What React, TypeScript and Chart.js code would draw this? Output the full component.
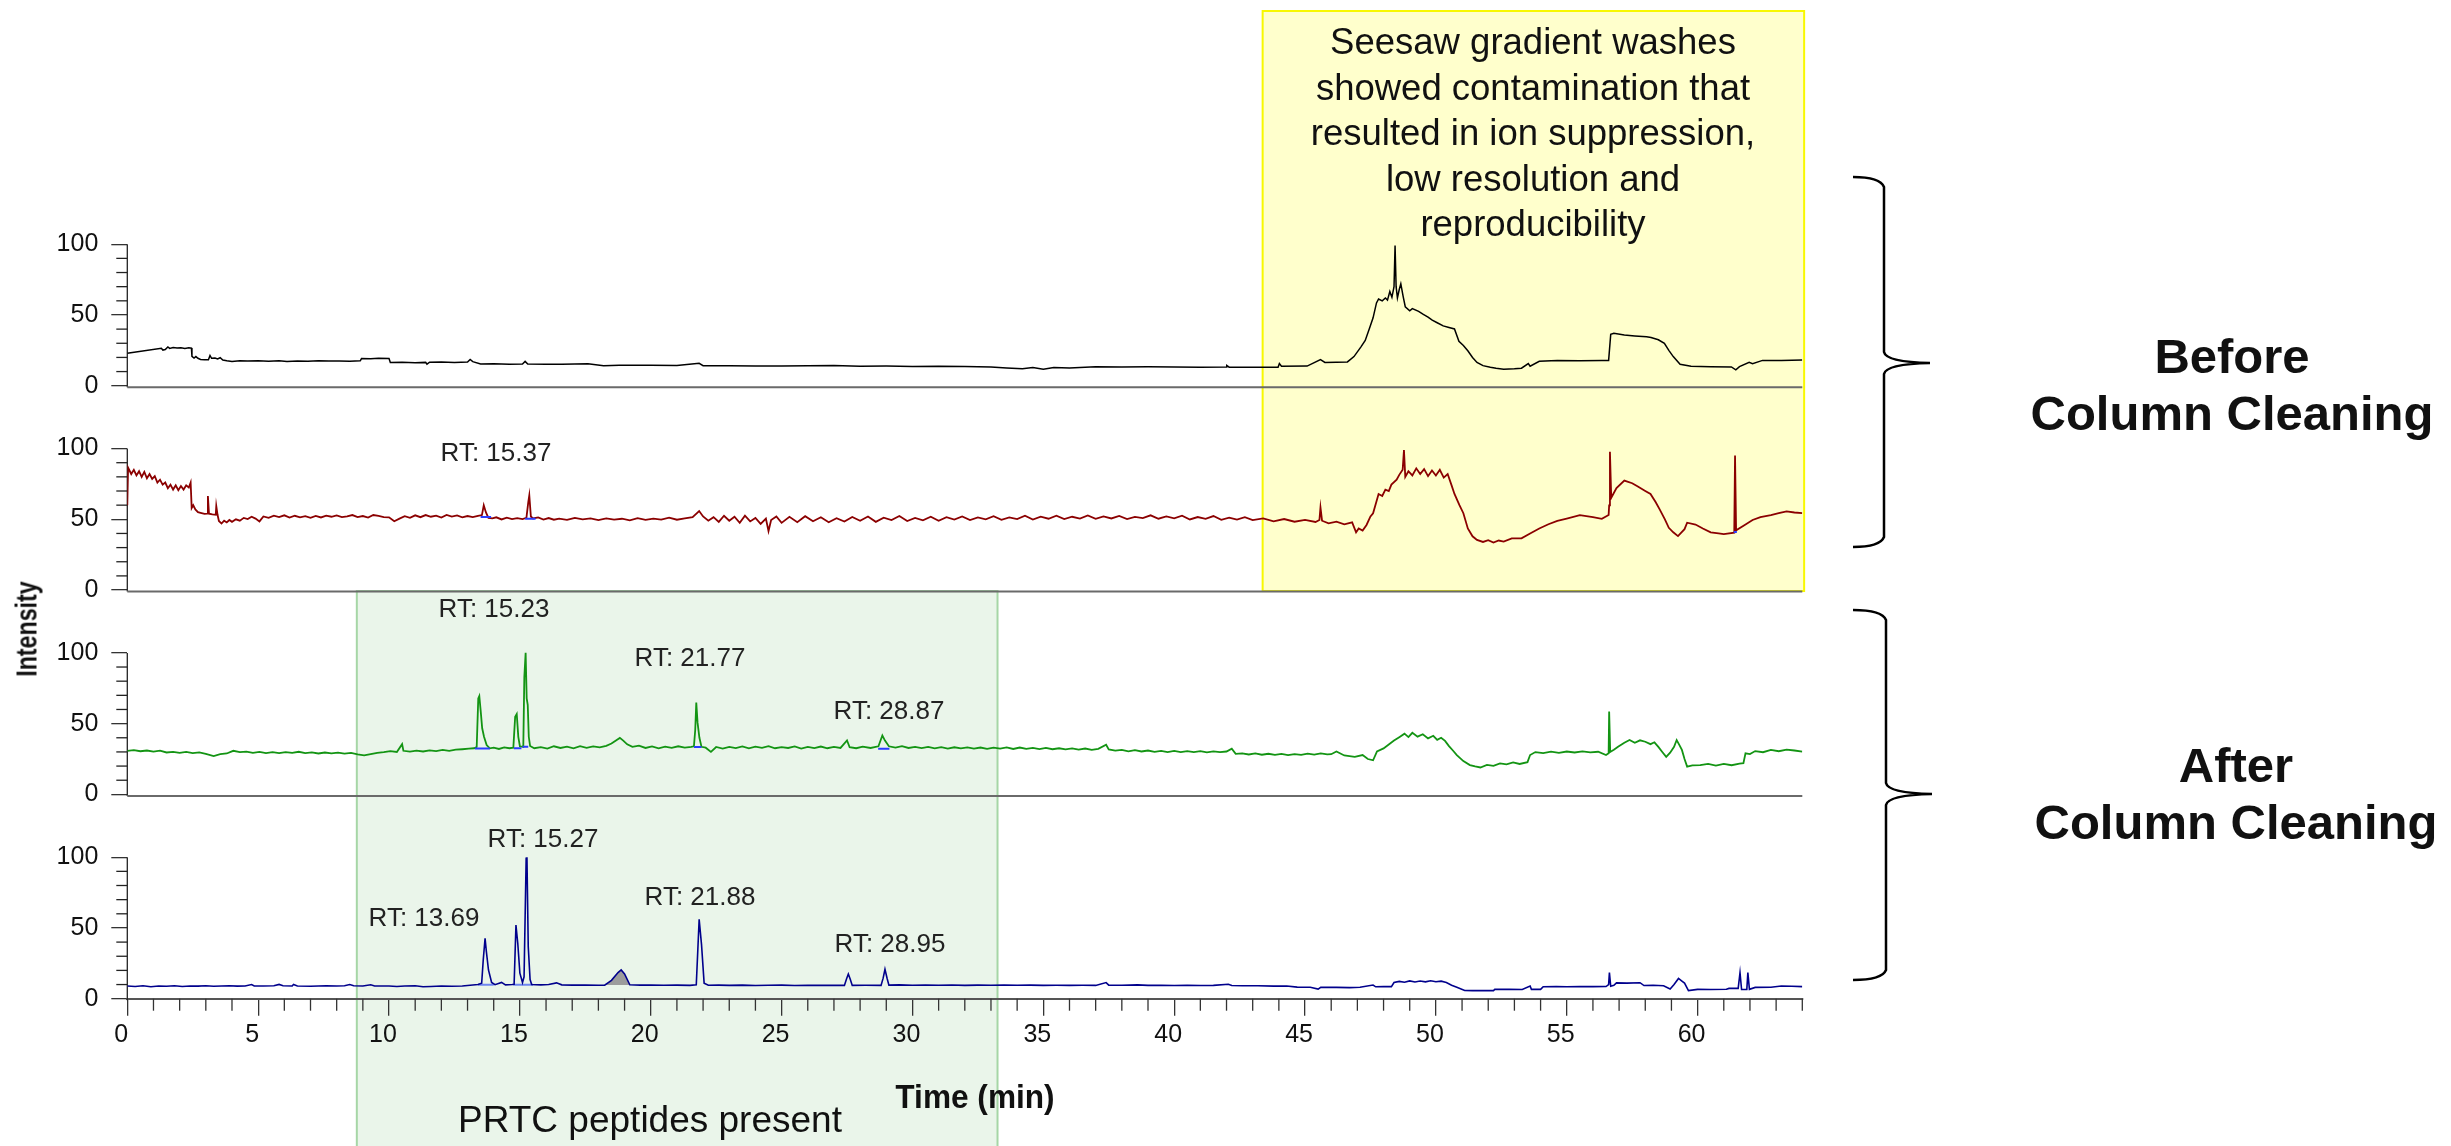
import React, { useEffect, useRef } from 'react';
import { Chart, registerables } from 'chart.js';

Chart.register(...registerables);

const FONT = '"Liberation Sans", Arial, Helvetica, sans-serif';
const W = 2451;
const H = 1146;

// ---- axes ----
const xTickValues = [0, 5, 10, 15, 20, 25, 30, 35, 40, 45, 50, 55, 60];
const xMinorTicks = [1, 2, 3, 4, 6, 7, 8, 9, 11, 12, 13, 14, 16, 17, 18, 19, 21, 22, 23, 24, 26, 27, 28, 29, 31, 32, 33, 34, 36, 37, 38, 39, 41, 42, 43, 44, 46, 47, 48, 49, 51, 52, 53, 54, 56, 57, 58, 59, 61, 62, 63, 64];
const yTickValues = [0, 50, 100];
const yMinorTicks = [10, 20, 30, 40, 60, 70, 80, 90];

// ---- highlighted windows (min) ----
const prtcWindow = [8.77, 33.25];
const washWindow = [43.38, 64.07];

// ---- Panel 1: before cleaning, run A (black) [time, relative intensity] ----
const traceBeforeA: [number, number][] = [
  [0, 23], [1.3, 26.5], [1.36, 25.2], [1.45, 25.6], [1.55, 27.4], [1.62, 26.4], [1.75, 27], [1.9, 26.6], [2.05, 26.9], [2.2, 26.4], [2.35, 26.8], [2.45, 26.6],
  [2.47, 20.8], [2.55, 19.6], [2.62, 20.6], [2.7, 19.4], [2.8, 18.6], [2.95, 18.3], [3.1, 18.4], [3.16, 21.4], [3.22, 19.4], [3.35, 19.6], [3.45, 18.9], [3.55, 19.8],
  [3.65, 18.2], [3.8, 17.6], [4.0, 17.2], [4.3, 17.7], [4.6, 17.4], [5.0, 17.6], [5.4, 17.3], [5.8, 17.7], [6.1, 17.2], [6.5, 17.5], [6.9, 17.3], [7.3, 17.6],
  [7.7, 17.4], [8.1, 17.5], [8.5, 17.3], [8.9, 17.6], [8.95, 19.2], [9.3, 19.0], [9.6, 19.4], [10.0, 19.2], [10.05, 16.4], [10.5, 16.6], [11.0, 16.3], [11.4, 16.5],
  [11.45, 15.2], [11.55, 16.6], [12.0, 16.8], [12.5, 16.5], [13.0, 16.7], [13.1, 18.6], [13.2, 17.0], [13.5, 15.4], [14.0, 15.5], [14.6, 15.2], [15.1, 15.4], [15.2, 17.2],
  [15.3, 15.3], [16.0, 15.2], [16.6, 15.1], [17.6, 15.6], [18.2, 14.2], [18.8, 14.5], [20.0, 14.4], [21.0, 14.3], [21.85, 15.8], [22.0, 14.2], [23, 14.1], [24, 14.0],
  [25, 13.9], [26, 14.1], [27, 14.3], [28, 13.8], [29, 13.9], [30, 13.6], [31, 13.8], [32, 13.5], [33, 13.2], [33.6, 12.6], [34.2, 12.0], [34.6, 12.8], [35.0, 11.7],
  [35.4, 12.9], [36, 12.6], [37, 13.4], [38, 13.2], [39, 13.4], [40, 13.2], [41, 13.0], [42, 13.2], [42.01, 14.3], [42.1, 13.1], [43, 13.0], [43.97, 13.1], [44.02, 15.7],
  [44.1, 13.8], [45.08, 13.9], [45.59, 18.4], [45.76, 16.5], [46.62, 16.8], [46.87, 20.6], [47.13, 27.3], [47.3, 32], [47.47, 40.9], [47.6, 48], [47.73, 58.5], [47.81, 61.3],
  [47.95, 60], [48.07, 62], [48.15, 60.5], [48.24, 66.6], [48.32, 62.5], [48.4, 70], [48.44, 99], [48.48, 70], [48.53, 62], [48.6, 68], [48.66, 72], [48.75, 63], [48.83, 55.8],
  [49.0, 53], [49.1, 54.5], [49.34, 52.5], [49.52, 50.4], [49.7, 48.5], [49.86, 46.3], [50.05, 44.5], [50.28, 42.3], [50.5, 41.2], [50.71, 40.1], [50.88, 31.4], [51.05, 28.5],
  [51.22, 24.7], [51.4, 20], [51.57, 16.5], [51.8, 14.2], [52.08, 13], [52.3, 12.3], [52.59, 11.6], [53.0, 12.0], [53.27, 12.4], [53.53, 15.7], [53.6, 13.8], [53.95, 17.3],
  [54.64, 17.9], [55.5, 17.6], [56.34, 17.9], [56.6, 17.9], [56.68, 36.3], [56.8, 37], [57.2, 35.8], [57.6, 35.2], [58.05, 34.6], [58.22, 34.1], [58.5, 32.5], [58.73, 30],
  [58.9, 25], [59.07, 20.6], [59.33, 15.1], [59.75, 13.8], [60.5, 13.4], [61.29, 13.3], [61.46, 11.2], [61.6, 13.5], [61.97, 16.5], [62.1, 15.5], [62.48, 17.9], [63.2, 17.8], [64, 18.2],
];

// ---- Panel 2: before cleaning, run B (dark red) ----
const traceBeforeB: [number, number][] = [
  [0, 60], [0.03, 86.5], [0.15, 82], [0.25, 85], [0.35, 81], [0.45, 84], [0.55, 80], [0.65, 83.5], [0.75, 79], [0.85, 82], [0.95, 78.5], [1.05, 80.5], [1.15, 76], [1.25, 78],
  [1.35, 74.5], [1.45, 76], [1.55, 72], [1.65, 74.5], [1.75, 71], [1.85, 74], [1.95, 70.5], [2.05, 73.5], [2.15, 71], [2.25, 74], [2.35, 72.5], [2.42, 76], [2.46, 58], [2.52, 60],
  [2.6, 57], [2.7, 55], [2.8, 54.5], [2.95, 53.8], [3.05, 54], [3.08, 66.4], [3.12, 54], [3.25, 53.5], [3.38, 53.2], [3.4, 59.4], [3.45, 53], [3.5, 48.8], [3.6, 47], [3.7, 49],
  [3.8, 47.8], [3.9, 49.5], [4.0, 48.2], [4.15, 50], [4.3, 49], [4.45, 51], [4.6, 50.2], [4.75, 51.8], [4.9, 50.5], [5.05, 48.5], [5.2, 52], [5.4, 51], [5.6, 52.6], [5.8, 51.5],
  [6.0, 52.8], [6.2, 51.2], [6.4, 52.5], [6.6, 51.4], [6.8, 52.2], [7.0, 51], [7.2, 52.4], [7.4, 51.3], [7.6, 52.6], [7.8, 51.8], [8.0, 52.8], [8.2, 51.6], [8.4, 52.1], [8.6, 53],
  [8.8, 51.5], [9.0, 52.3], [9.2, 51.2], [9.4, 53], [9.6, 52.4], [9.8, 51.6], [10.0, 51.4], [10.2, 48.6], [10.4, 50.5], [10.6, 52.2], [10.8, 51.1], [11.0, 52.8], [11.2, 51.5],
  [11.4, 53], [11.6, 51.8], [11.8, 52.6], [12.0, 51.2], [12.2, 53.1], [12.4, 51.9], [12.6, 52.7], [12.8, 51.4], [13.0, 52.3], [13.2, 51.5], [13.4, 52.4], [13.55, 53], [13.62, 59.9],
  [13.7, 55], [13.8, 51], [13.95, 50.6], [14.1, 51.4], [14.3, 49.9], [14.5, 51.2], [14.7, 50.1], [14.9, 50.8], [15.1, 50.2], [15.25, 51], [15.32, 62], [15.36, 66.9], [15.42, 52],
  [15.5, 50.6], [15.7, 51.3], [15.9, 49.8], [16.1, 50.9], [16.3, 49.7], [16.5, 50.5], [16.8, 49.6], [17.1, 51], [17.4, 49.9], [17.7, 50.6], [18.0, 49.5], [18.3, 50.7], [18.6, 49.8],
  [18.9, 50.4], [19.2, 49.3], [19.5, 50.8], [19.8, 49.6], [20.1, 50.5], [20.4, 49.8], [20.7, 51.2], [21.0, 49.7], [21.3, 50.6], [21.6, 51.5], [21.85, 55.8], [22.0, 52], [22.2, 49],
  [22.4, 51.5], [22.6, 48.2], [22.8, 52.5], [23.0, 49], [23.2, 51.8], [23.4, 47.5], [23.6, 52.6], [23.8, 48.5], [24.0, 51], [24.2, 46.8], [24.4, 50.5], [24.5, 41.7], [24.6, 49.5],
  [24.8, 52], [25.0, 47.5], [25.3, 51.8], [25.6, 48], [25.9, 52.2], [26.2, 48.6], [26.5, 51.5], [26.8, 47.9], [27.1, 50.8], [27.4, 48.4], [27.7, 51.6], [28.0, 49], [28.3, 52],
  [28.6, 48.2], [28.9, 51.2], [29.2, 49.4], [29.5, 52.3], [29.8, 48.8], [30.1, 51], [30.4, 49.3], [30.7, 51.8], [31.0, 49], [31.3, 51.5], [31.6, 49.8], [31.9, 52], [32.2, 49.5],
  [32.5, 51.3], [32.8, 50], [33.1, 52.2], [33.4, 49.6], [33.7, 51.4], [34.0, 50.2], [34.3, 52.5], [34.6, 49.8], [34.9, 51.9], [35.2, 50.4], [35.5, 52.6], [35.8, 50.1], [36.1, 51.8],
  [36.4, 50.5], [36.7, 52.7], [37.0, 50.3], [37.3, 52.1], [37.6, 50.6], [37.9, 52.4], [38.2, 50.2], [38.5, 51.7], [38.8, 50.9], [39.1, 52.8], [39.4, 50.4], [39.7, 52], [40.0, 50.7],
  [40.3, 52.5], [40.6, 49.9], [40.9, 51.6], [41.2, 50.3], [41.5, 52.3], [41.8, 49.6], [42.1, 51.2], [42.4, 49.8], [42.7, 51.5], [43.0, 49.4], [43.4, 50.6], [43.8, 48.5], [44.2, 50.2],
  [44.6, 48.3], [45.0, 49.6], [45.4, 48.1], [45.55, 49.5], [45.59, 58.4], [45.65, 49], [45.9, 47.2], [46.2, 48.3], [46.5, 46.5], [46.8, 47.8], [46.95, 40.8], [47.05, 43.5], [47.2, 42],
  [47.35, 46], [47.5, 52], [47.6, 54.3], [47.81, 67.9], [47.95, 66.5], [48.07, 71], [48.2, 70], [48.3, 74.5], [48.5, 78], [48.6, 81.4], [48.73, 85], [48.78, 99], [48.83, 80],
  [48.95, 84], [49.1, 81], [49.25, 86], [49.4, 82], [49.55, 85.5], [49.7, 80.5], [49.85, 84.5], [50.0, 81], [50.15, 85], [50.3, 79.5], [50.45, 82], [50.6, 74], [50.71, 67.9],
  [50.9, 60], [51.05, 54.3], [51.22, 43.5], [51.4, 38], [51.57, 35.4], [51.8, 34], [52.0, 35.2], [52.2, 33.6], [52.4, 35], [52.59, 34.2], [52.9, 36.5], [53.27, 36.5], [53.6, 40],
  [53.95, 43.5], [54.3, 46.5], [54.64, 48.9], [55.0, 50.5], [55.5, 52.9], [56.0, 51.5], [56.34, 50.3], [56.6, 53], [56.62, 59.8], [56.65, 97.7], [56.7, 65.2], [56.9, 72], [57.2, 77.4],
  [57.5, 75.5], [57.7, 73.3], [58.0, 70], [58.2, 67.9], [58.4, 62], [58.55, 57], [58.75, 50], [58.9, 44], [59.07, 40.8], [59.25, 38.1], [59.5, 43], [59.6, 47.6], [59.92, 46.3],
  [60.2, 43.5], [60.5, 40.8], [60.8, 40], [61.0, 39.5], [61.4, 40.5], [61.43, 95], [61.47, 42.2], [61.8, 46], [62.1, 49.5], [62.4, 51.6], [62.8, 53], [63.1, 54.3], [63.4, 55.6],
  [63.7, 54.8], [64.0, 54.3],
];

// ---- Panel 3: after cleaning, run A (green) ----
const traceAfterA: [number, number][] = [
  [0, 30.8], [0.25, 31.3], [0.5, 30.5], [0.75, 31], [1.0, 30.2], [1.25, 30.9], [1.5, 29.6], [1.75, 30.1], [2.0, 29.4], [2.25, 30], [2.5, 29.1], [2.75, 29.7], [3.0, 28.6], [3.3, 27.1],
  [3.55, 28.4], [3.8, 28.9], [4.05, 30.8], [4.3, 29.8], [4.55, 30.2], [4.8, 29.4], [5.05, 30], [5.3, 29.2], [5.55, 29.8], [5.8, 29.1], [6.05, 29.9], [6.3, 29.3], [6.55, 30.1],
  [6.8, 29.2], [7.05, 29.7], [7.3, 28.9], [7.55, 29.6], [7.8, 29], [8.05, 29.5], [8.3, 28.8], [8.55, 29.3], [8.8, 28.2], [9.05, 27.6], [9.3, 28.5], [9.55, 29.4], [9.8, 29.8],
  [10.05, 30.5], [10.3, 30], [10.5, 35.5], [10.55, 30.8], [10.8, 30.2], [11.05, 30.9], [11.3, 30.3], [11.55, 31.1], [11.8, 30.6], [12.05, 31.4], [12.3, 30.8], [12.55, 31.6],
  [12.8, 31.9], [13.05, 32.3], [13.25, 32.6], [13.35, 33.5], [13.41, 67.8], [13.45, 69.5], [13.5, 59.6], [13.56, 46.7], [13.63, 40.7], [13.73, 34.8], [13.85, 32.5], [14.0, 33],
  [14.2, 32.1], [14.4, 33.2], [14.6, 32.6], [14.75, 33], [14.82, 54.9], [14.88, 56.8], [14.94, 40.7], [15.0, 34], [15.13, 33.5], [15.17, 83], [15.22, 100], [15.26, 67.8],
  [15.3, 63.3], [15.34, 40.7], [15.39, 34.2], [15.55, 32.6], [15.8, 33.4], [16.05, 32.3], [16.3, 34], [16.55, 32.8], [16.8, 33.7], [17.05, 32.5], [17.3, 34.1], [17.55, 32.9],
  [17.8, 33.9], [18.05, 33.2], [18.3, 34.3], [18.5, 35.9], [18.7, 38.5], [18.82, 39.9], [18.95, 38], [19.1, 35.4], [19.3, 33.6], [19.55, 34.5], [19.8, 32.8], [20.05, 33.9],
  [20.3, 32.6], [20.55, 33.8], [20.8, 32.9], [21.05, 34], [21.3, 33.1], [21.55, 33.5], [21.65, 34], [21.7, 45.5], [21.74, 64.9], [21.79, 50.5], [21.86, 40], [21.94, 33.6],
  [22.1, 33], [22.3, 30], [22.5, 33.5], [22.75, 32.4], [23.0, 33.6], [23.25, 32.7], [23.5, 33.9], [23.75, 32.5], [24.0, 33.7], [24.25, 32.9], [24.5, 34.1], [24.75, 32.6],
  [25.0, 33.4], [25.25, 32.8], [25.5, 33.9], [25.75, 32.4], [26.0, 33.5], [26.25, 32.7], [26.5, 33.8], [26.75, 32.6], [27.0, 33.6], [27.25, 32.8], [27.5, 38.1], [27.6, 33.3],
  [27.85, 32.6], [28.1, 33.7], [28.4, 32.8], [28.7, 34], [28.85, 41.6], [28.95, 38], [29.1, 34], [29.35, 33], [29.6, 34.1], [29.85, 32.8], [30.1, 33.6], [30.35, 32.7],
  [30.6, 33.5], [30.85, 32.5], [31.1, 33.4], [31.35, 32.4], [31.6, 33.3], [31.85, 32.5], [32.1, 33.2], [32.35, 32.3], [32.6, 33.1], [32.85, 32.2], [33.1, 33], [33.35, 32.4],
  [33.6, 33.2], [33.85, 32.1], [34.1, 33.1], [34.35, 32.2], [34.6, 32.9], [34.85, 32], [35.1, 32.8], [35.35, 31.9], [35.6, 32.6], [35.85, 31.8], [36.1, 32.5], [36.35, 31.6],
  [36.6, 32.4], [36.85, 31.5], [37.1, 32.2], [37.4, 35.1], [37.5, 31.8], [37.75, 30.9], [38.0, 31.5], [38.25, 30.4], [38.5, 31.2], [38.75, 30.3], [39.0, 31], [39.25, 30.1],
  [39.5, 30.8], [39.75, 29.9], [40.0, 30.7], [40.25, 29.8], [40.5, 30.6], [40.75, 29.9], [41.0, 30.5], [41.25, 29.7], [41.5, 30.4], [41.75, 29.8], [42.0, 30.3], [42.2, 32.3],
  [42.35, 28.6], [42.6, 29], [42.85, 28.2], [43.1, 28.9], [43.35, 28], [43.6, 28.7], [43.85, 27.9], [44.1, 28.6], [44.35, 27.8], [44.6, 28.5], [44.85, 27.9], [45.1, 28.8],
  [45.35, 28.1], [45.6, 29], [45.85, 28.3], [46.0, 28.4], [46.2, 30.3], [46.5, 27.5], [46.9, 26.5], [47.2, 27.8], [47.4, 25], [47.6, 24.1], [47.75, 30.3], [48.0, 32.5],
  [48.2, 35.3], [48.4, 38], [48.6, 40.4], [48.8, 42.9], [48.95, 40.5], [49.1, 43.5], [49.3, 40.8], [49.5, 42.5], [49.7, 39.6], [49.9, 41.4], [50.05, 38.5], [50.2, 40],
  [50.35, 37.8], [50.5, 34.1], [50.65, 31], [50.8, 27.8], [51.05, 23.5], [51.3, 20.7], [51.5, 19.8], [51.7, 19], [51.95, 20.8], [52.2, 20.1], [52.45, 21.9], [52.7, 21.2],
  [52.95, 22.6], [53.2, 21.5], [53.5, 22.8], [53.6, 27.8], [53.8, 29.9], [54.1, 29.1], [54.4, 30.2], [54.7, 29.4], [55.0, 30.3], [55.3, 29.6], [55.6, 30.4], [55.9, 29.7],
  [56.2, 30.1], [56.5, 27.8], [56.6, 29], [56.62, 58.6], [56.66, 30], [56.8, 31.5], [56.96, 33.6], [57.2, 36.5], [57.4, 38.4], [57.6, 36.5], [57.8, 38.2], [58.0, 37.2],
  [58.2, 35.5], [58.35, 36.8], [58.5, 33.6], [58.65, 30], [58.8, 26.5], [58.95, 29.5], [59.1, 33.6], [59.2, 38.4], [59.3, 35], [59.4, 31.4], [59.5, 25], [59.6, 19.6],
  [59.8, 20.5], [60.1, 20.7], [60.4, 21.6], [60.7, 20.4], [61.0, 21.5], [61.3, 20.6], [61.6, 21.8], [61.75, 22], [61.83, 29], [62.0, 28.5], [62.2, 30.6], [62.5, 29.8],
  [62.8, 31.4], [63.1, 30.5], [63.4, 31.6], [63.7, 31], [64.0, 30.2],
];

// ---- Panel 4: after cleaning, run B (navy) ----
const traceAfterB: [number, number][] = [
  [0, 9], [0.3, 8.6], [0.6, 9.1], [0.9, 8.5], [1.2, 9], [1.5, 8.8], [1.8, 9.1], [2.1, 8.6], [2.4, 9], [2.7, 8.9], [3.0, 9.1], [3.3, 8.8], [3.6, 9], [3.9, 9.1], [4.2, 8.9],
  [4.5, 9], [4.75, 10], [4.85, 9], [5.2, 9], [5.6, 9.1], [5.8, 10.1], [5.95, 9.2], [6.3, 9], [6.35, 10], [6.5, 9], [7.0, 8.8], [7.3, 9], [7.6, 9.1], [8.0, 9], [8.3, 9.1],
  [8.5, 10], [8.65, 9.2], [9.0, 9], [9.3, 9.8], [9.45, 9], [10.0, 9], [10.3, 8.6], [10.6, 9], [11.0, 9.1], [11.3, 8.4], [11.6, 8.6], [12.0, 9], [12.4, 8.8], [12.8, 9],
  [13.1, 9.5], [13.4, 10], [13.54, 10.9], [13.6, 27.3], [13.67, 42.7], [13.72, 33.3], [13.8, 20.3], [13.92, 11.5], [14.05, 9.9], [14.3, 11.5], [14.45, 9.8], [14.7, 10],
  [14.78, 10.2], [14.85, 52], [14.92, 39], [15.0, 18], [15.1, 11.5], [15.16, 15.5], [15.24, 99.2], [15.27, 100], [15.32, 36.7], [15.39, 13.5], [15.45, 10], [15.8, 9.8],
  [16.1, 10], [16.4, 11.2], [16.6, 9.8], [17.0, 9.6], [17.5, 9.7], [18.0, 9.5], [18.24, 9.6], [18.5, 13], [18.75, 18.5], [18.87, 20.3], [19.0, 17.5], [19.2, 9.8], [19.6, 9.6],
  [20.0, 9.7], [20.5, 9.5], [21.0, 9.6], [21.5, 9.4], [21.74, 9.8], [21.8, 35], [21.85, 56.1], [21.94, 38.4], [22.04, 11], [22.2, 9.5], [22.6, 9.6], [23.0, 9.4], [23.5, 9.6],
  [24.0, 9.3], [24.5, 9.5], [25.0, 9.6], [25.5, 9.3], [26.0, 9.5], [26.5, 9.4], [27.0, 9.5], [27.4, 9.4], [27.48, 14], [27.55, 17.5], [27.62, 14], [27.7, 9.4], [28.2, 9.5],
  [28.8, 9.4], [28.88, 14.5], [28.95, 20.8], [29.03, 14.5], [29.1, 9.6], [29.5, 9.8], [30.0, 9.5], [30.5, 9.6], [31.0, 9.5], [31.5, 9.7], [32.0, 9.4], [32.5, 9.6], [33.0, 9.5],
  [33.5, 9.7], [34.0, 9.5], [34.5, 9.6], [35.0, 9.4], [35.5, 9.5], [36.0, 9.4], [36.5, 9.5], [37.0, 9.4], [37.4, 11.4], [37.5, 9.6], [38.0, 9.5], [38.6, 9.8], [39.0, 9.4],
  [39.5, 9.5], [40.0, 9.3], [40.5, 9.4], [41.0, 9.3], [41.5, 9.4], [42.07, 10.2], [42.2, 9.3], [42.6, 9.1], [43.2, 9.2], [43.8, 8.9], [44.3, 9], [44.7, 8.2], [45.2, 8.1],
  [45.5, 6.8], [45.6, 8.1], [46.2, 8], [46.7, 7.8], [47.1, 8.1], [47.6, 9.7], [47.7, 8.4], [48.0, 8.6], [48.3, 8.5], [48.4, 11.4], [48.6, 12.2], [48.8, 11.6], [49.0, 12.6],
  [49.2, 11.8], [49.4, 12.5], [49.6, 11.9], [49.8, 12.7], [50.0, 12], [50.2, 12.4], [50.4, 11.4], [50.6, 9.5], [50.8, 8.1], [51.1, 5.8], [51.4, 5.7], [51.8, 5.8], [52.2, 5.7],
  [52.25, 6.6], [52.8, 6.7], [53.3, 6.5], [53.6, 9], [53.65, 6.6], [54.0, 6.6], [54.1, 8.5], [54.6, 8.6], [55.0, 8.4], [55.5, 8.6], [56.0, 8.5], [56.5, 8.6], [56.6, 10],
  [56.63, 18.4], [56.68, 8.8], [56.8, 9.5], [56.9, 11.2], [57.3, 11], [57.8, 11.3], [57.95, 9.3], [58.3, 9.5], [58.7, 9.2], [58.95, 6.9], [59.1, 10], [59.27, 14.3], [59.4, 12.5],
  [59.5, 11], [59.65, 5.7], [60.0, 6.6], [60.5, 6.5], [61.1, 6.7], [61.2, 7.3], [61.55, 7.3], [61.62, 18.4], [61.68, 6.5], [61.88, 6.6], [61.92, 18.4], [61.98, 6.6], [62.2, 8],
  [62.8, 8.1], [63.2, 9], [63.6, 8.8], [64.0, 8.5],
];

// ---- integration baselines / shaded peak ----
const baselinesBeforeB: [number, number | null][] = [[13.5, 51.6], [13.9, 51.6], [13.9, null], [15.2, 50.4], [15.6, 50.4], [15.6, null], [61.38, 41], [61.5, 41]];
const baselinesAfterA: [number, number | null][] = [[13.28, 32.5], [13.85, 32.5], [13.85, null], [14.77, 32.6], [15.06, 32.6], [15.06, null], [15.1, 33.6], [15.32, 33.6], [15.32, null], [21.65, 33.4], [21.94, 33.4], [21.94, null], [28.69, 32.3], [29.12, 32.3]];
const baselinesAfterB: [number, number | null][] = [[13.4, 9.9], [14.0, 9.9], [14.0, null], [14.75, 9.9], [15.5, 9.9]];
const shadedPeakAfterB: [number, number][] = [[18.24, 9.6], [18.5, 13], [18.75, 18.5], [18.87, 20.3], [19.0, 17.5], [19.2, 9.6]];
const shadedPeakBase = 9.6;

const toXY = (arr: [number, number | null][]) => arr.map(([x, y]) => ({ x, y }));

const panelAxes = ['y1', 'y2', 'y3', 'y4'];

const lineDs = (data: [number, number | null][], yAxisID: string, color: string, order: number, width: number) => ({
  data: toXY(data),
  yAxisID,
  xAxisID: 'x',
  borderColor: color,
  backgroundColor: color,
  borderWidth: width,
  pointRadius: 0,
  pointHoverRadius: 0,
  tension: 0,
  fill: false,
  spanGaps: false,
  order,
});

const yAxis = (weight: number) => ({
  type: 'linear',
  position: 'left',
  stack: 'panels',
  stackWeight: 1,
  weight,
  min: 0,
  max: 144.4,
  afterBuildTicks: (axis: any) => {
    axis.ticks = yTickValues.map((v) => ({ value: v }));
  },
  afterFit: (axis: any) => {
    axis.width = 127.3;
  },
  grid: { display: true, drawOnChartArea: false, drawTicks: true, tickLength: 16, color: '#333', lineWidth: 1.3 },
  border: { display: false },
  ticks: { padding: 13, color: '#111', font: { size: 25, family: FONT } },
});

const decorPlugin = {
  id: 'decor',
  beforeDraw(chart: any) {
    const { ctx, scales } = chart;
    const x = scales.x;
    const splitY = scales.y2.getPixelForValue(0) + 1;
    const yl = x.getPixelForValue(washWindow[0]);
    const yr = x.getPixelForValue(washWindow[1]);
    ctx.save();
    ctx.fillStyle = '#FFFFCC';
    ctx.fillRect(yl, 11, yr - yl, splitY - 11);
    ctx.strokeStyle = '#F8F800';
    ctx.lineWidth = 2;
    ctx.strokeRect(yl, 11, yr - yl, splitY - 11);
    const gl = x.getPixelForValue(prtcWindow[0]);
    const gr = x.getPixelForValue(prtcWindow[1]);
    ctx.fillStyle = '#EAF5EA';
    ctx.fillRect(gl, splitY, gr - gl, H - splitY + 5);
    ctx.strokeStyle = '#A6D6A6';
    ctx.strokeRect(gl, splitY, gr - gl, H - splitY + 5);
    ctx.restore();
  },
  beforeDatasetsDraw(chart: any) {
    const { ctx, scales, chartArea } = chart;
    const x = scales.x;
    const left = chartArea.left;
    ctx.save();
    panelAxes.forEach((id, i) => {
      const ys = scales[id];
      const y0 = ys.getPixelForValue(0);
      const y100 = ys.getPixelForValue(100);
      ctx.strokeStyle = '#222';
      ctx.lineWidth = 1.3;
      ctx.beginPath();
      ctx.moveTo(left, y100);
      ctx.lineTo(left, y0 + 1.5);
      ctx.stroke();
      yMinorTicks.forEach((v) => {
        const py = ys.getPixelForValue(v);
        ctx.beginPath();
        ctx.moveTo(left - 11, py);
        ctx.lineTo(left, py);
        ctx.stroke();
      });
      if (i < 3) {
        ctx.strokeStyle = '#6a6a6a';
        ctx.lineWidth = 2;
        ctx.beginPath();
        ctx.moveTo(left, y0 + 1.5);
        ctx.lineTo(chartArea.right, y0 + 1.5);
        ctx.stroke();
      }
    });
    ctx.strokeStyle = '#333';
    ctx.lineWidth = 1.3;
    xMinorTicks.forEach((t) => {
      const px = x.getPixelForValue(t);
      ctx.beginPath();
      ctx.moveTo(px, chartArea.bottom);
      ctx.lineTo(px, chartArea.bottom + 12);
      ctx.stroke();
    });
    ctx.restore();
  },
};

const abs: React.CSSProperties = { position: 'absolute', whiteSpace: 'nowrap', lineHeight: 1 };
const centered = (x: number, y: number): React.CSSProperties => ({ ...abs, left: x, top: y, transform: 'translate(-50%, -50%)' });

const rtLabels: { text: string; x: number; y: number }[] = [
  { text: 'RT: 15.37', x: 496, y: 452 },
  { text: 'RT: 15.23', x: 494, y: 608 },
  { text: 'RT: 21.77', x: 690, y: 657 },
  { text: 'RT: 28.87', x: 889, y: 710 },
  { text: 'RT: 13.69', x: 424, y: 917 },
  { text: 'RT: 15.27', x: 543, y: 838 },
  { text: 'RT: 21.88', x: 700, y: 896 },
  { text: 'RT: 28.95', x: 890, y: 943 },
];

export default function App() {
  const canvasRef = useRef<HTMLCanvasElement>(null);

  useEffect(() => {
    if (!canvasRef.current) return;
    const chart = new Chart(canvasRef.current, {
      type: 'line',
      data: {
        datasets: [
          lineDs(traceBeforeA, 'y1', '#000000', 1, 1.5),
          lineDs(traceBeforeB, 'y2', '#8B0000', 1, 1.8),
          lineDs(traceAfterA, 'y3', '#139413', 1, 1.8),
          lineDs(traceAfterB, 'y4', '#00008c', 1, 1.6),
          lineDs(baselinesBeforeB, 'y2', '#2a3cff', 0, 2),
          lineDs(baselinesAfterA, 'y3', '#2a3cff', 0, 2),
          lineDs(baselinesAfterB, 'y4', '#6f86f0', 2, 2),
          {
            data: toXY(shadedPeakAfterB),
            yAxisID: 'y4',
            xAxisID: 'x',
            borderColor: 'rgba(0,0,0,0)',
            borderWidth: 0,
            backgroundColor: '#9c9c9c',
            pointRadius: 0,
            tension: 0,
            fill: { value: shadedPeakBase },
            order: 3,
          },
        ] as any,
      },
      options: {
        responsive: false,
        maintainAspectRatio: false,
        devicePixelRatio: 1,
        animation: false,
        events: [],
        layout: { padding: { left: 0, right: W - 1802.3, top: 181.4, bottom: 87.3 } },
        plugins: { legend: { display: false }, tooltip: { enabled: false }, title: { display: false } },
        scales: {
          x: {
            type: 'linear',
            position: 'bottom',
            min: 0,
            max: 64,
            afterBuildTicks: (axis: any) => {
              axis.ticks = xTickValues.map((v) => ({ value: v }));
            },
            afterFit: (axis: any) => {
              axis.height = 60;
            },
            grid: { display: true, drawOnChartArea: false, drawTicks: true, tickLength: 17, color: '#333', lineWidth: 1.3 },
            border: { display: true, color: '#555', width: 2 },
            ticks: { padding: 4, color: '#111', font: { size: 25, family: FONT }, labelOffset: -6, autoSkip: false, maxRotation: 0 },
          },
          y1: yAxis(4),
          y2: yAxis(3),
          y3: yAxis(2),
          y4: yAxis(1),
        } as any,
      },
      plugins: [decorPlugin],
    });
    return () => chart.destroy();
  }, []);

  return (
    <div style={{ position: 'absolute', left: 0, top: 0, width: W, height: H, background: '#fff', overflow: 'hidden', fontFamily: FONT, color: '#111' }}>
      <canvas ref={canvasRef} width={W} height={H} style={{ position: 'absolute', left: 0, top: 0, width: W, height: H }} />

      <div style={{ position: 'absolute', left: 1262, top: 19.3, width: 542, textAlign: 'center', fontSize: 36.5, lineHeight: '45.4px', color: '#111' }}>
        Seesaw gradient washes<br />showed contamination that<br />resulted in ion suppression,<br />low resolution and<br />reproducibility
      </div>

      {rtLabels.map((l) => (
        <div key={l.text} style={{ ...centered(l.x, l.y), fontSize: 26, color: '#222' }}>{l.text}</div>
      ))}

      <div style={{ ...centered(26.5, 629), fontSize: 29, fontWeight: 'bold', transform: 'translate(-50%, -50%) rotate(-90deg) scaleX(0.8)' }}>Intensity</div>
      <div style={{ ...centered(975, 1096), fontSize: 34, fontWeight: 'bold', transform: 'translate(-50%, -50%) scaleX(0.93)' }}>Time (min)</div>
      <div style={{ ...centered(650, 1119), fontSize: 37 }}>PRTC peptides present</div>

      <div style={{ position: 'absolute', left: 1982, top: 328, width: 500, textAlign: 'center', fontSize: 49, fontWeight: 'bold', lineHeight: '57px' }}>
        Before<br />Column Cleaning
      </div>
      <div style={{ position: 'absolute', left: 1986, top: 737, width: 500, textAlign: 'center', fontSize: 49, fontWeight: 'bold', lineHeight: '57px' }}>
        After<br />Column Cleaning
      </div>

      <svg width={W} height={H} style={{ position: 'absolute', left: 0, top: 0 }}>
        <path d="M1853 177 Q1880 177 1884 187 L1884 352 Q1886 362 1930 363 Q1886 364 1884 374 L1884 537 Q1880 547 1853 547" fill="none" stroke="#000" strokeWidth={2.5} />
        <path d="M1853 610 Q1882 610 1886 620 L1886 783 Q1888 793 1932 794 Q1888 795 1886 805 L1886 970 Q1882 980 1853 980" fill="none" stroke="#000" strokeWidth={2.5} />
      </svg>
    </div>
  );
}
